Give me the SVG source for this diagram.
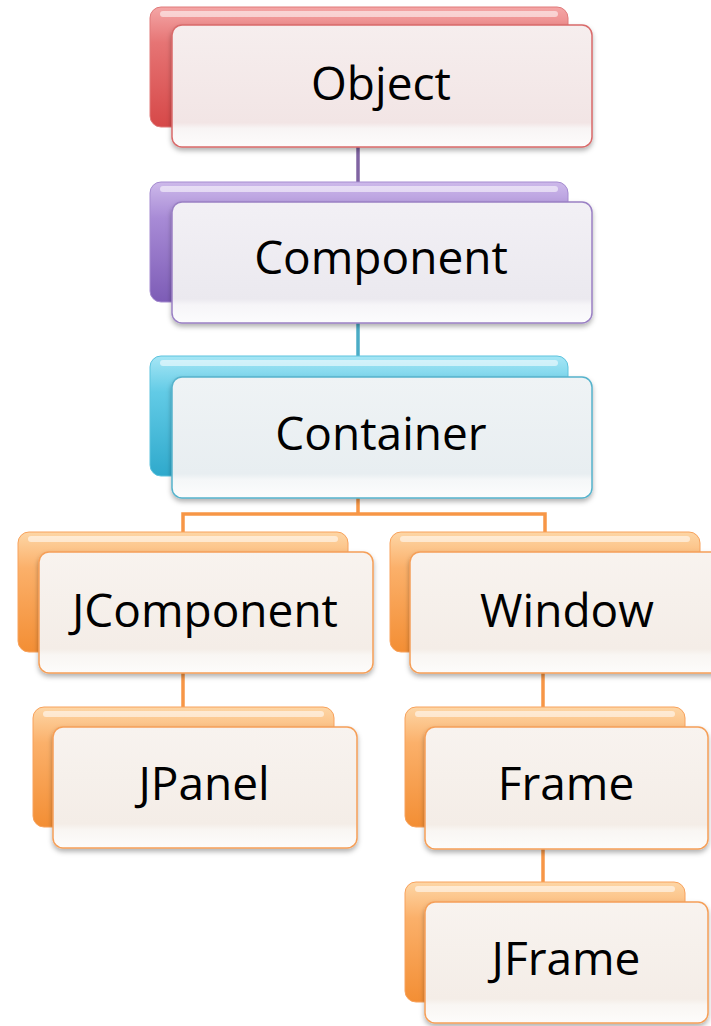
<svg xmlns="http://www.w3.org/2000/svg" width="711" height="1026" viewBox="0 0 711 1026">
<style>
.lbl{font-family:"Open Sans","Liberation Sans",sans-serif;font-size:46px;fill:#000;text-anchor:middle}
.hl{fill:#fff;opacity:0.55}
.conn{fill:none;stroke-width:3.5}
</style>
<defs>
<filter id="sh" x="-10%" y="-10%" width="120%" height="130%">
<feDropShadow dx="0" dy="3" stdDeviation="2.5" flood-color="#000" flood-opacity="0.3"/>
</filter>
<linearGradient id="bR" x1="0" y1="0" x2="0" y2="1"><stop offset="0" stop-color="#f4a6a6"/><stop offset="0.3" stop-color="#e67474"/><stop offset="1" stop-color="#d64848"/></linearGradient>
<linearGradient id="bP" x1="0" y1="0" x2="0" y2="1"><stop offset="0" stop-color="#cdb9ea"/><stop offset="0.3" stop-color="#a88bd6"/><stop offset="1" stop-color="#7d5cb6"/></linearGradient>
<linearGradient id="bB" x1="0" y1="0" x2="0" y2="1"><stop offset="0" stop-color="#a6e6f5"/><stop offset="0.3" stop-color="#62cbe6"/><stop offset="1" stop-color="#2fa9cc"/></linearGradient>
<linearGradient id="bO" x1="0" y1="0" x2="0" y2="1"><stop offset="0" stop-color="#fdd6a6"/><stop offset="0.3" stop-color="#fbb06a"/><stop offset="1" stop-color="#f38e34"/></linearGradient>
<linearGradient id="fR" x1="0" y1="0" x2="0" y2="1"><stop offset="0" stop-color="#f6eeee"/><stop offset="0.8" stop-color="#f2e5e5"/><stop offset="0.85" stop-color="#f8f5f5"/><stop offset="1" stop-color="#fdfcfc"/></linearGradient>
<linearGradient id="fP" x1="0" y1="0" x2="0" y2="1"><stop offset="0" stop-color="#f2f0f5"/><stop offset="0.8" stop-color="#ebe9ef"/><stop offset="0.85" stop-color="#f6f5f8"/><stop offset="1" stop-color="#fcfcfd"/></linearGradient>
<linearGradient id="fB" x1="0" y1="0" x2="0" y2="1"><stop offset="0" stop-color="#eff3f5"/><stop offset="0.8" stop-color="#e8eef1"/><stop offset="0.85" stop-color="#f5f7f8"/><stop offset="1" stop-color="#fcfdfd"/></linearGradient>
<linearGradient id="fO" x1="0" y1="0" x2="0" y2="1"><stop offset="0" stop-color="#f8f3ef"/><stop offset="0.8" stop-color="#f4ede7"/><stop offset="0.85" stop-color="#f9f6f3"/><stop offset="1" stop-color="#fdfcfb"/></linearGradient>
</defs>

<g id="connectors">
<line class="conn" x1="358" y1="120" x2="358" y2="210" stroke="#8064a2"/>
<line class="conn" x1="358" y1="300" x2="358" y2="385" stroke="#4bacc6"/>
<path class="conn" d="M358 480 V514 H183 V540 M358 514 H545 V540" stroke="#f79646"/>
<line class="conn" x1="183" y1="660" x2="183" y2="715" stroke="#f79646"/>
<line class="conn" x1="543" y1="660" x2="543" y2="715" stroke="#f79646"/>
<line class="conn" x1="543" y1="835" x2="543" y2="890" stroke="#f79646"/>
</g>

<g id="node-object">
<rect x="150" y="7" width="418" height="120" rx="11" fill="url(#bR)" stroke="#e07b7b" stroke-width="1"/>
<rect class="hl" x="160" y="11" width="398" height="6" rx="3"/>
<rect x="172" y="25" width="420" height="122" rx="10" fill="url(#fR)" stroke="#d96a6a" stroke-width="1.5" filter="url(#sh)"/>
<text class="lbl" x="381" y="100">Object</text>
</g>

<g id="node-component">
<rect x="150" y="182" width="418" height="120" rx="11" fill="url(#bP)" stroke="#a58bd0" stroke-width="1"/>
<rect class="hl" x="160" y="186" width="398" height="6" rx="3"/>
<rect x="172" y="202" width="420" height="121" rx="10" fill="url(#fP)" stroke="#9a80c4" stroke-width="1.5" filter="url(#sh)"/>
<text class="lbl" x="381" y="274">Component</text>
</g>

<g id="node-container">
<rect x="150" y="356" width="418" height="120" rx="11" fill="url(#bB)" stroke="#5cc3de" stroke-width="1"/>
<rect class="hl" x="160" y="360" width="398" height="6" rx="3"/>
<rect x="172" y="377" width="420" height="121" rx="10" fill="url(#fB)" stroke="#56b3cc" stroke-width="1.5" filter="url(#sh)"/>
<text class="lbl" x="381" y="450">Container</text>
</g>

<g id="node-jcomponent">
<rect x="18" y="532" width="330" height="120" rx="11" fill="url(#bO)" stroke="#f8a25c" stroke-width="1"/>
<rect class="hl" x="28" y="536" width="310" height="6" rx="3"/>
<rect x="39" y="552" width="334" height="121" rx="10" fill="url(#fO)" stroke="#f59f58" stroke-width="1.5" filter="url(#sh)"/>
<text class="lbl" x="205" y="627">JComponent</text>
</g>

<g id="node-jpanel">
<rect x="33" y="707" width="301" height="120" rx="11" fill="url(#bO)" stroke="#f8a25c" stroke-width="1"/>
<rect class="hl" x="43" y="711" width="281" height="6" rx="3"/>
<rect x="53" y="727" width="304" height="121" rx="10" fill="url(#fO)" stroke="#f59f58" stroke-width="1.5" filter="url(#sh)"/>
<text class="lbl" x="204" y="800">JPanel</text>
</g>

<g id="node-window">
<rect x="390" y="532" width="310" height="120" rx="11" fill="url(#bO)" stroke="#f8a25c" stroke-width="1"/>
<rect class="hl" x="400" y="536" width="290" height="6" rx="3"/>
<rect x="410" y="552" width="316" height="121" rx="10" fill="url(#fO)" stroke="#f59f58" stroke-width="1.5" filter="url(#sh)"/>
<text class="lbl" x="567" y="627">Window</text>
</g>

<g id="node-frame">
<rect x="405" y="707" width="280" height="120" rx="11" fill="url(#bO)" stroke="#f8a25c" stroke-width="1"/>
<rect class="hl" x="415" y="711" width="260" height="6" rx="3"/>
<rect x="425" y="727" width="283" height="122" rx="10" fill="url(#fO)" stroke="#f59f58" stroke-width="1.5" filter="url(#sh)"/>
<text class="lbl" x="566" y="800">Frame</text>
</g>

<g id="node-jframe">
<rect x="405" y="882" width="280" height="120" rx="11" fill="url(#bO)" stroke="#f8a25c" stroke-width="1"/>
<rect class="hl" x="415" y="886" width="260" height="6" rx="3"/>
<rect x="425" y="902" width="283" height="121" rx="10" fill="url(#fO)" stroke="#f59f58" stroke-width="1.5" filter="url(#sh)"/>
<text class="lbl" x="566" y="975">JFrame</text>
</g>
</svg>
